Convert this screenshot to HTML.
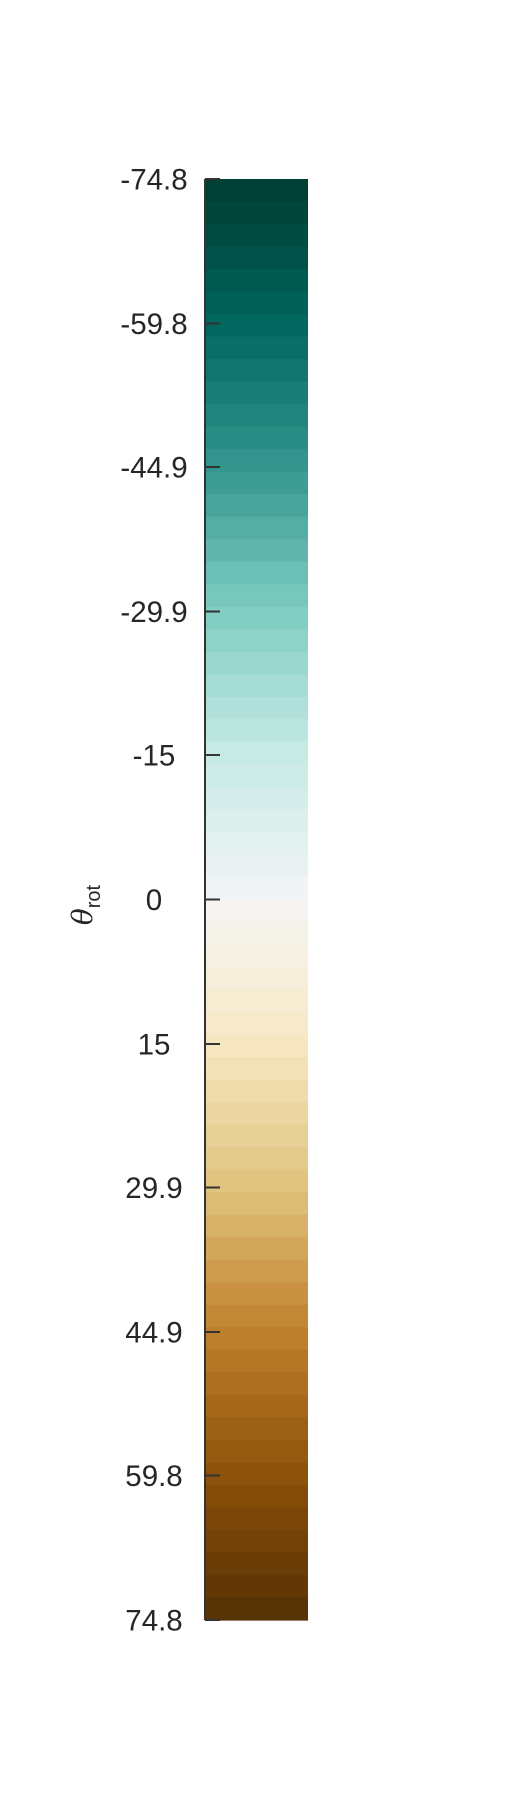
<!DOCTYPE html>
<html><head><meta charset="utf-8"><style>
html,body{margin:0;padding:0;background:#fff;}
svg{display:block;font-family:"Liberation Sans",sans-serif;}
</style></head><body>
<svg id="chart" width="514" height="1800" viewBox="0 0 514 1800" xmlns="http://www.w3.org/2000/svg">
<rect width="514" height="1800" fill="#ffffff"/>
<g id="bands"></g>
<g id="axis"></g>
<text transform="translate(92,905) rotate(-90)" font-size="28" fill="#262626" text-anchor="middle"><tspan font-family="'DejaVu Serif',serif" font-style="italic">θ</tspan><tspan font-size="20" dy="8">rot</tspan></text>
</svg>
<script>
const tickValues = [-74.8, -59.8, -44.9, -29.9, -15, 0, 15, 29.9, 44.9, 59.8, 74.8];
const tickLabels = ["-74.8", "-59.8", "-44.9", "-29.9", "-15", "0", "15", "29.9", "44.9", "59.8", "74.8"];
const vmin = -74.8, vmax = 74.8;
const nLevels = 64;
// BrBG anchors (reversed: green at vmin)
const anchors = [[0,60,48],[1,102,94],[53,151,143],[128,205,193],[199,234,229],[245,245,245],[246,232,195],[223,194,125],[191,129,45],[140,81,10],[84,48,5]];

const svg = document.getElementById('chart');
const NS = 'http://www.w3.org/2000/svg';
const X0 = 205, X1 = 308, Y0 = 179, Y1 = 1620;
function yScale(v){ return Y0 + (v - vmin) / (vmax - vmin) * (Y1 - Y0); }
function cmap(t){
  const p = t * (anchors.length - 1);
  const i = Math.min(Math.floor(p), anchors.length - 2);
  const f = p - i;
  const c = anchors[i].map((a, k) => Math.round(a + (anchors[i+1][k] - a) * f));
  return 'rgb(' + c.join(',') + ')';
}
const bands = document.getElementById('bands');
const step = (vmax - vmin) / nLevels;
for (let i = 0; i < nLevels; i++) {
  const v0 = vmin + i * step, v1 = v0 + step;
  const r = document.createElementNS(NS, 'rect');
  
  
  r.setAttribute('x', X0);
  r.setAttribute('y', yScale(v0));
  r.setAttribute('width', X1 - X0);
  r.setAttribute('height', yScale(v1) - yScale(v0) + 0.6);
  r.setAttribute('fill', cmap((i + 0.5) / nLevels));
  bands.appendChild(r);
}
const axis = document.getElementById('axis');
const spine = document.createElementNS(NS, 'line');


spine.setAttribute('x1', X0); spine.setAttribute('x2', X0);
spine.setAttribute('y1', Y0); spine.setAttribute('y2', Y1);
spine.setAttribute('stroke', '#333'); spine.setAttribute('stroke-width', '2');
axis.appendChild(spine);
tickValues.forEach((v, i) => {
  const y = yScale(v);
  const t = document.createElementNS(NS, 'line');
  
  
  t.setAttribute('x1', X0); t.setAttribute('x2', X0 + 15);
  t.setAttribute('y1', y); t.setAttribute('y2', y);
  t.setAttribute('stroke', '#333'); t.setAttribute('stroke-width', '2');
  axis.appendChild(t);
  const l = document.createElementNS(NS, 'text');
  
  
  l.setAttribute('x', 154);
  l.setAttribute('y', y + 10.5);
  l.setAttribute('font-size', '29.5');
  l.setAttribute('fill', '#262626');
  l.setAttribute('text-anchor', 'middle');
  l.textContent = tickLabels[i];
  axis.appendChild(l);
});
</script>
</body></html>
